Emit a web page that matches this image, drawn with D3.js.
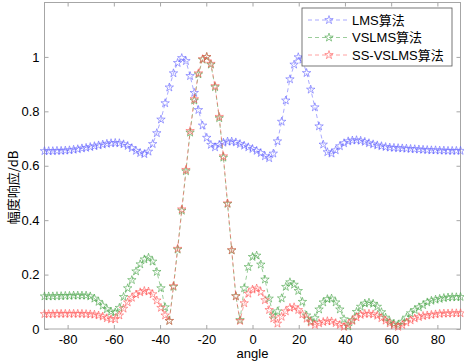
<!DOCTYPE html>
<html>
<head>
<meta charset="utf-8">
<script src="https://cdn.jsdelivr.net/npm/d3@7"></script>
<style>
  body { margin: 0; background: #fff; }
  svg { display: block; }
  text { font-family: "Liberation Sans", Arial, "Noto Sans CJK SC", sans-serif; }
</style>
</head>
<body>
<script>
// angle grid (deg): 101 points from -90 to 90
const angles = [-90, -88.2, -86.4, -84.6, -82.8, -81, -79.2, -77.4, -75.6, -73.8,
  -72, -70.2, -68.4, -66.6, -64.8, -63, -61.2, -59.4, -57.6, -55.8,
  -54, -52.2, -50.4, -48.6, -46.8, -45, -43.2, -41.4, -39.6, -37.8,
  -36, -34.2, -32.4, -30.6, -28.8, -27, -25.2, -23.4, -21.6, -19.8,
  -18, -16.2, -14.4, -12.6, -10.8, -9, -7.2, -5.4, -3.6, -1.8,
  0, 1.8, 3.6, 5.4, 7.2, 9, 10.8, 12.6, 14.4, 16.2,
  18, 19.8, 21.6, 23.4, 25.2, 27, 28.8, 30.6, 32.4, 34.2,
  36, 37.8, 39.6, 41.4, 43.2, 45, 46.8, 48.6, 50.4, 52.2,
  54, 55.8, 57.6, 59.4, 61.2, 63, 64.8, 66.6, 68.4, 70.2,
  72, 73.8, 75.6, 77.4, 79.2, 81, 82.8, 84.6, 86.4, 88.2, 90];

const lms = [0.654, 0.654, 0.654, 0.655, 0.655, 0.656, 0.657, 0.659, 0.661, 0.664,
  0.666, 0.669, 0.672, 0.675, 0.678, 0.681, 0.683, 0.684, 0.683, 0.679,
  0.673, 0.665, 0.655, 0.647, 0.643, 0.652, 0.68, 0.72, 0.77, 0.83,
  0.888, 0.94, 0.978, 0.996, 0.985, 0.93, 0.868, 0.805, 0.748, 0.703,
  0.677, 0.668, 0.677, 0.685, 0.689, 0.689, 0.686, 0.68, 0.674, 0.668,
  0.662, 0.655, 0.647, 0.635, 0.628, 0.645, 0.69, 0.762, 0.84, 0.918,
  0.972, 0.999, 0.99, 0.941, 0.88, 0.815, 0.745, 0.678, 0.65, 0.645,
  0.657, 0.672, 0.683, 0.69, 0.693, 0.694, 0.692, 0.688, 0.683, 0.679,
  0.675, 0.672, 0.669, 0.667, 0.666, 0.665, 0.664, 0.663, 0.662, 0.661,
  0.66, 0.659, 0.658, 0.657, 0.657, 0.656, 0.656, 0.655, 0.655, 0.655, 0.655];

const vslms = [0.12, 0.12, 0.12, 0.121, 0.121, 0.122, 0.122, 0.123, 0.123, 0.123,
  0.123, 0.12, 0.112, 0.1, 0.086, 0.073, 0.064, 0.061, 0.078, 0.118,
  0.15, 0.18, 0.212, 0.238, 0.256, 0.262, 0.248, 0.21, 0.15, 0.08,
  0.03, 0.155, 0.292, 0.435, 0.58, 0.722, 0.84, 0.936, 0.99, 1.0,
  0.972, 0.889, 0.775, 0.63, 0.46, 0.289, 0.121, 0.033, 0.15, 0.228,
  0.265, 0.27, 0.237, 0.182, 0.112, 0.05, 0.065, 0.113, 0.155, 0.172,
  0.163, 0.14, 0.1, 0.05, 0.028, 0.04, 0.072, 0.098, 0.11, 0.112,
  0.098, 0.072, 0.036, 0.01, 0.033, 0.063, 0.082, 0.094, 0.097, 0.093,
  0.082, 0.062, 0.042, 0.027, 0.02, 0.015, 0.027, 0.042, 0.058, 0.07,
  0.08, 0.088, 0.098, 0.104, 0.108, 0.111, 0.114, 0.116, 0.117, 0.117, 0.118];

const ssvslms = [0.055, 0.055, 0.055, 0.056, 0.056, 0.056, 0.056, 0.056, 0.056, 0.056,
  0.055, 0.054, 0.053, 0.05, 0.046, 0.04, 0.036, 0.036, 0.05, 0.075,
  0.098, 0.115, 0.127, 0.135, 0.14, 0.138, 0.128, 0.105, 0.078, 0.05,
  0.03, 0.158, 0.295, 0.44, 0.585, 0.728, 0.845, 0.94, 0.992, 1.0,
  0.975, 0.893, 0.78, 0.635, 0.462, 0.29, 0.12, 0.03, 0.095, 0.13,
  0.145, 0.149, 0.136, 0.106, 0.07, 0.039, 0.02, 0.045, 0.065, 0.078,
  0.08, 0.07, 0.054, 0.038, 0.024, 0.015, 0.021, 0.026, 0.029, 0.028,
  0.022, 0.015, 0.008, 0.016, 0.03, 0.043, 0.052, 0.056, 0.056, 0.054,
  0.049, 0.04, 0.031, 0.021, 0.014, 0.008, 0.015, 0.024, 0.032, 0.039,
  0.044, 0.048, 0.05, 0.052, 0.054, 0.056, 0.057, 0.057, 0.058, 0.058, 0.058];

const seriesNames = ["LMS算法", "VSLMS算法", "SS-VSLMS算法"];
const seriesColors = ["#5c5cff", "#3f9f3f", "#ff4d4d"];
const xTicks = [-80, -60, -40, -20, 0, 20, 40, 60, 80];
const yTicks = [0, 0.2, 0.4, 0.6, 0.8, 1];
const xLabel = "angle";
const yLabel = "幅度响应/dB";

const outerWidth = 464, outerHeight = 364;
const margin = {top: 2.5, right: 3.5, bottom: 35, left: 44.5};
const width = outerWidth - margin.left - margin.right;
const height = outerHeight - margin.top - margin.bottom;

const xScale = d3.scaleLinear().domain([-90, 90]).range([0, width]);
const yScale = d3.scaleLinear().domain([0, 1.2]).range([height, 0]);

const svgRoot = d3.select("body").append("svg")
  .attr("width", outerWidth)
  .attr("height", outerHeight);

const svg = svgRoot.append("g")
  .attr("transform", `translate(${margin.left},${margin.top})`);

// box + inward ticks on all four sides, matlab style
const frameColor = "#a6a6a6";
svg.append("rect")
  .attr("width", width).attr("height", height)
  .attr("fill", "none").attr("stroke", frameColor).attr("stroke-width", 1);

const fmt = d => String(d);
const axes = [
  svg.append("g").attr("transform", `translate(0,${height})`)
    .call(d3.axisBottom(xScale).tickValues(xTicks).tickSize(-4).tickPadding(6).tickFormat(fmt)),
  svg.append("g")
    .call(d3.axisTop(xScale).tickValues(xTicks).tickSize(-4).tickFormat("")),
  svg.append("g")
    .call(d3.axisLeft(yScale).tickValues(yTicks).tickSize(-4).tickPadding(5).tickFormat(fmt)),
  svg.append("g").attr("transform", `translate(${width},0)`)
    .call(d3.axisRight(yScale).tickValues(yTicks).tickSize(-4).tickFormat(""))
];
axes.forEach(a => {
  a.select(".domain").remove();
  a.selectAll(".tick line").attr("stroke", frameColor);
  a.selectAll("text").attr("fill", "#000").style("font-size", "13px")
    .style("font-family", "'Liberation Sans', Arial, sans-serif");
});

// data
const allSeries = [lms, vslms, ssvslms];
const line = d3.line()
  .x((d, i) => xScale(angles[i]))
  .y(d => yScale(d));
const star = d3.symbol().type(d3.symbolStar).size(22);

allSeries.forEach((vals, k) => {
  const g = svg.append("g");
  g.append("path")
    .datum(vals)
    .attr("fill", "none")
    .attr("stroke", seriesColors[k])
    .attr("stroke-width", 0.7)
    .attr("stroke-opacity", 0.75)
    .attr("stroke-dasharray", "4,3")
    .attr("d", line);
  g.selectAll("path.m")
    .data(vals)
    .join("path")
    .attr("class", "m")
    .attr("d", star)
    .attr("transform", (d, i) => `translate(${xScale(angles[i])},${yScale(d)})`)
    .attr("fill", "none")
    .attr("stroke", seriesColors[k])
    .attr("stroke-width", 0.7)
    .attr("stroke-opacity", 0.8);
});

// axis labels
svg.append("text")
  .attr("x", xScale(0)).attr("y", height + 29)
  .attr("text-anchor", "middle")
  .style("font-size", "13px")
  .text(xLabel);

svg.append("text")
  .attr("transform", `translate(${-27},${yScale(0.52)}) rotate(-90)`)
  .attr("text-anchor", "middle")
  .style("font-size", "13px")
  .style("font-family", "'Noto Sans CJK SC', sans-serif")
  .text(yLabel);

// legend
const lg = svgRoot.append("g").attr("transform", "translate(302,8)");
lg.append("rect")
  .attr("width", 150).attr("height", 58)
  .attr("fill", "#fff").attr("stroke", "#555").attr("stroke-width", 0.8);
seriesNames.forEach((name, k) => {
  const y = 12 + k * 17.5;
  lg.append("line")
    .attr("x1", 6).attr("x2", 48).attr("y1", y).attr("y2", y)
    .attr("stroke", seriesColors[k]).attr("stroke-width", 0.7)
    .attr("stroke-opacity", 0.75).attr("stroke-dasharray", "4,3");
  lg.append("path")
    .attr("d", star)
    .attr("transform", `translate(27,${y})`)
    .attr("fill", "none").attr("stroke", seriesColors[k])
    .attr("stroke-width", 0.7).attr("stroke-opacity", 0.8);
  lg.append("text")
    .attr("x", 50).attr("y", y + 4.5)
    .style("font-size", "13px")
    .text(name);
});
</script>
</body>
</html>
